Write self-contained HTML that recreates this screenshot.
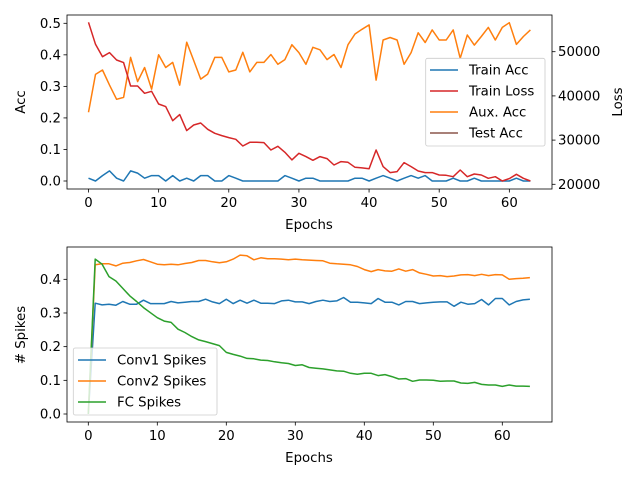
<!DOCTYPE html>
<html><head><meta charset="utf-8"><style>
body{margin:0;background:#fff}
svg{display:block;font-family:"DejaVu Sans","Liberation Sans",sans-serif}
</style></head><body>
<svg id="chart" width="640" height="480" viewBox="0 0 640 480" xmlns="http://www.w3.org/2000/svg"></svg>
<script>
const epochsTop = Array.from({length:64},(_,i)=>i);
const trainAcc = [0.009,0,0.017,0.032,0.009,0,0.032,0.025,0.009,0.017,0.017,0,0.017,0,0.009,0,0.017,0.017,0,0,0.017,0.009,0,0,0,0,0,0,0.017,0.009,0,0.009,0.009,0,0,0,0,0,0.009,0.009,0,0.009,0.017,0.009,0,0.009,0.017,0.009,0.017,0,0,0,0.009,0,0,0.009,0,0,0,0,0,0.009,0,0];
const trainLoss = [56650,51670,48880,49790,48130,47530,42250,42250,40590,41040,38170,37570,34400,35760,32140,33420,33880,32440,31540,31010,30560,30180,28670,29500,29500,29430,27770,28600,27240,25510,27010,26260,25430,26260,25810,24370,25130,24980,23850,23700,23500,27770,24000,22640,22870,24900,24000,23020,22640,22640,22110,22040,21730,23240,21730,22340,22110,21360,21730,20750,21280,22260,21360,20750];
const auxAcc = [0.218,0.338,0.352,0.304,0.259,0.265,0.392,0.315,0.360,0.291,0.400,0.360,0.376,0.304,0.440,0.382,0.323,0.339,0.392,0.392,0.346,0.352,0.408,0.346,0.376,0.376,0.401,0.370,0.385,0.432,0.407,0.370,0.424,0.416,0.385,0.401,0.360,0.432,0.466,0.481,0.495,0.320,0.447,0.455,0.447,0.370,0.407,0.470,0.439,0.479,0.447,0.447,0.479,0.389,0.463,0.431,0.458,0.487,0.447,0.487,0.502,0.433,0.458,0.479];
const accTicks = [0.0,0.1,0.2,0.3,0.4,0.5];
const lossTicks = [20000,30000,40000,50000];
const xTicks = [0,10,20,30,40,50,60];

const epochsBot = Array.from({length:65},(_,i)=>i);
const conv1 = [0,0.329,0.324,0.326,0.323,0.334,0.326,0.326,0.338,0.328,0.328,0.328,0.334,0.330,0.332,0.334,0.334,0.341,0.333,0.328,0.341,0.328,0.338,0.329,0.338,0.329,0.329,0.328,0.336,0.338,0.333,0.333,0.328,0.334,0.338,0.334,0.336,0.346,0.332,0.332,0.330,0.328,0.343,0.332,0.332,0.324,0.334,0.334,0.328,0.330,0.332,0.333,0.333,0.320,0.332,0.326,0.328,0.340,0.324,0.343,0.343,0.324,0.334,0.339,0.341];
const conv2 = [0,0.443,0.446,0.446,0.440,0.448,0.450,0.455,0.459,0.452,0.445,0.443,0.445,0.443,0.447,0.450,0.456,0.456,0.452,0.449,0.452,0.460,0.472,0.470,0.458,0.464,0.461,0.461,0.460,0.458,0.460,0.458,0.457,0.456,0.455,0.448,0.446,0.445,0.443,0.438,0.429,0.423,0.429,0.425,0.424,0.431,0.424,0.429,0.419,0.415,0.410,0.411,0.408,0.410,0.413,0.414,0.411,0.415,0.411,0.414,0.413,0.400,0.402,0.403,0.405];
const fc = [0,0.460,0.445,0.408,0.395,0.373,0.351,0.334,0.316,0.301,0.286,0.276,0.272,0.252,0.242,0.230,0.220,0.215,0.209,0.203,0.183,0.177,0.172,0.165,0.164,0.160,0.159,0.155,0.152,0.150,0.144,0.146,0.138,0.136,0.134,0.131,0.128,0.127,0.121,0.118,0.121,0.121,0.114,0.117,0.111,0.104,0.105,0.097,0.101,0.101,0.100,0.097,0.098,0.098,0.092,0.091,0.094,0.088,0.086,0.086,0.082,0.086,0.083,0.083,0.082];
const spikeTicks = [0.0,0.1,0.2,0.3,0.4];

const NS="http://www.w3.org/2000/svg";
const svg=document.getElementById('chart');
function mk(tag,attrs,parent){const e=document.createElementNS(NS,tag);for(const k in attrs)e.setAttribute(k,attrs[k]);(parent||svg).appendChild(e);return e;}

const FS=13.3;
const T={l:67,r:552,t:15,b:189};
const xT=v=>88.5+7.014*v;
const yAcc=v=>181-315.4*v;
const yLoss=v=>184.3-(v-20000)*0.00442;
const B={l:67,r:552,t:247,b:422};
const xB=v=>88.3+6.9*v;
const yS=v=>414-336.7*v;

function line(xs,ys,xf,yf,color,name){
  const p=mk('polyline',{points:xs.map((x,i)=>xf(x).toFixed(1)+','+yf(ys[i]).toFixed(1)).join(' '),fill:'none',stroke:color,'stroke-width':1.5,'stroke-linejoin':'round'});
  
  
}
function frame(A,name){
  const r=mk('rect',{x:A.l,y:A.t,width:A.r-A.l,height:A.b-A.t,fill:'none',stroke:'#000','stroke-width':0.8});
  
  
}
function text(x,y,s,anchor,name,rot){
  const t=mk('text',{x:x,y:y,'font-size':FS,'text-anchor':anchor,fill:'#000'});
  if(rot)t.setAttribute('transform','rotate(-90 '+x+' '+y+')');
  t.textContent=s;
  
  
}
function xticks(A,xf){
  xTicks.forEach(v=>{const x=xf(v);mk('line',{x1:x,x2:x,y1:A.b,y2:A.b+3.5,stroke:'#000','stroke-width':0.8});
    text(x,A.b+18,String(v),'middle','x-tick-label');});
}

line(epochsTop,trainAcc,xT,yAcc,'#1f77b4','train-acc-line');
line(epochsTop,auxAcc,xT,yAcc,'#ff7f0e','aux-acc-line');
line(epochsTop,trainLoss,xT,yLoss,'#d62728','train-loss-line');
frame(T,'top-plot-area');
xticks(T,xT);
accTicks.forEach(v=>{const y=yAcc(v);mk('line',{x1:T.l-3.5,x2:T.l,y1:y,y2:y,stroke:'#000','stroke-width':0.8});text(T.l-6,y+4.5,v.toFixed(1),'end','acc-tick-label');});
lossTicks.forEach(v=>{const y=yLoss(v);mk('line',{x1:T.r,x2:T.r+3.5,y1:y,y2:y,stroke:'#000','stroke-width':0.8});text(T.r+6,y+4.5,String(v),'start','loss-tick-label');});
text(25,102,'Acc','middle','acc-axis-title',true);
text(622,102,'Loss','middle','loss-axis-title',true);
text(309,229,'Epochs','middle','top-x-axis-title');

const lg=mk('g',{});


mk('rect',{x:425.7,y:58.3,width:119.3,height:87.7,rx:2,fill:'#fff','fill-opacity':0.8,stroke:'#ccc','stroke-width':0.8},lg);
[['Train Acc','#1f77b4'],['Train Loss','#d62728'],['Aux. Acc','#ff7f0e'],['Test Acc','#8c564b']].forEach((e,i)=>{
  const y=70+i*21;
  const ln=mk('line',{x1:430,x2:458,y1:y,y2:y,stroke:e[1],'stroke-width':1.5},lg);
  
  
  const t=mk('text',{x:469,y:y+4.5,'font-size':FS},lg);t.textContent=e[0];
  
  
});

line(epochsBot,conv1,xB,yS,'#1f77b4','conv1-spikes-line');
line(epochsBot,conv2,xB,yS,'#ff7f0e','conv2-spikes-line');
line(epochsBot,fc,xB,yS,'#2ca02c','fc-spikes-line');
frame(B,'bottom-plot-area');
xticks(B,xB);
spikeTicks.forEach(v=>{const y=yS(v);mk('line',{x1:B.l-3.5,x2:B.l,y1:y,y2:y,stroke:'#000','stroke-width':0.8});text(B.l-6,y+4.5,v.toFixed(1),'end','spikes-tick-label');});
text(25,335,'# Spikes','middle','spikes-axis-title',true);
text(309,462,'Epochs','middle','bottom-x-axis-title');

const lg2=mk('g',{});


mk('rect',{x:73.3,y:348,width:143.7,height:67,rx:2,fill:'#fff','fill-opacity':0.8,stroke:'#ccc','stroke-width':0.8},lg2);
[['Conv1 Spikes','#1f77b4'],['Conv2 Spikes','#ff7f0e'],['FC Spikes','#2ca02c']].forEach((e,i)=>{
  const y=360+i*21;
  const ln=mk('line',{x1:78,x2:106,y1:y,y2:y,stroke:e[1],'stroke-width':1.5},lg2);
  
  
  const t=mk('text',{x:117,y:y+4.5,'font-size':FS},lg2);t.textContent=e[0];
  
  
});
</script>
</body></html>
